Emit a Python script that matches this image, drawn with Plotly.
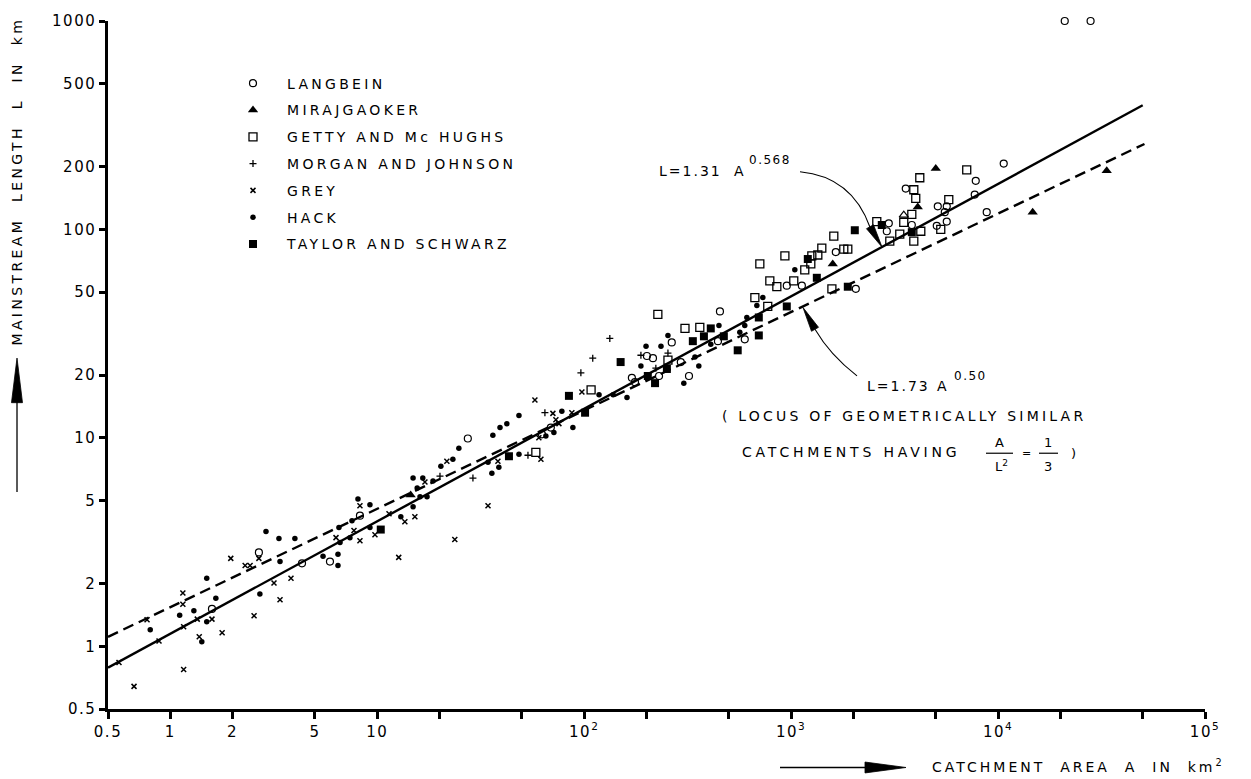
import math
import plotly.graph_objects as go

# ---------------- data (catchment area A in km^2, mainstream length L in km) ----------------
langbein_A = [1.59, 2.68, 4.33, 5.91, 8.25, 27.4, 62.5, 69.0, 201, 215, 265, 170, 176, 230, 293, 321, 443,
              453, 597, 953, 1127, 1644, 2054, 2965, 2900, 3581, 5114, 5650, 5650, 5056, 3830, 5527, 8815,
              7803, 7715, 10650, 21000, 28000]
langbein_L = [1.51, 2.82, 2.50, 2.55, 4.23, 9.93, 10.4, 11.2, 24.7, 24.1, 28.7, 19.4, 18.5, 19.8, 23.1, 19.8,
              29.1, 40.4, 29.7, 53.7, 53.7, 77.9, 51.9, 107, 98, 157, 129, 129, 109, 104, 105, 121, 121,
              171, 147, 207, 1000, 1000]

mirajgaoker_A = [14.5, 1589, 5000, 4093, 14700, 33500]
mirajgaoker_L = [5.32, 68.3, 196, 128, 121, 191]
mirajgaoker_open_A = [3502]
mirajgaoker_open_L = [117]

getty_A = [58.4, 108, 227, 254, 307, 362, 668, 771, 706, 789, 853, 1030, 933, 1164, 1245, 1259, 1346, 1407,
           1608, 1797, 1879, 1574, 2594, 2998, 3350, 3916, 4233, 3502, 3830, 4002, 3916, 4186, 5779, 5286,
           7057]
getty_L = [8.52, 17.0, 39.1, 23.6, 33.5, 33.9, 47.1, 42.7, 68.3, 56.7, 53.1, 56.7, 74.6, 64.0, 68.3, 74.6,
           75.4, 81.4, 92.8, 80.5, 80.5, 51.9, 109, 87.9, 94.9, 87.9, 98, 108, 118, 141, 155, 177, 139, 100,
           193]

morgan_A = [20.1, 29.0, 53.5, 64.6, 96.4, 110, 133, 188, 254, 222]
morgan_L = [6.55, 6.41, 8.25, 13.2, 20.5, 24.1, 30.0, 24.9, 25.5, 21.6]

grey_A = [0.668, 0.565, 0.772, 0.882, 1.15, 1.15, 1.16, 1.16, 1.35, 1.38, 1.59, 1.78, 1.96, 2.30, 2.43,
          2.54, 2.68, 3.17, 3.39, 3.83, 6.32, 8.25, 8.25, 7.72, 9.75, 11.4, 12.7, 13.6, 15.2, 23.7, 17.0,
          21.7, 38.3, 61.8, 57.8, 70.6, 73.0, 75.5, 60.4, 87.2, 97.5, 34.3]
grey_L = [0.642, 0.836, 1.34, 1.06, 1.80, 1.59, 1.24, 0.774, 1.35, 1.11, 1.35, 1.16, 2.64, 2.44, 2.44,
          1.40, 2.64, 2.01, 1.67, 2.12, 3.32, 4.72, 3.21, 3.59, 3.43, 4.32, 2.67, 3.96, 4.18, 3.25, 6.14,
          7.72, 7.72, 7.89, 15.2, 13.1, 12.2, 11.7, 10.0, 13.2, 16.6, 4.72]

hack_A = [0.80, 1.11, 1.30, 1.42, 1.50, 1.50, 1.66, 2.71, 2.90, 3.35, 3.39, 4.00, 5.47, 6.46, 6.46, 6.53,
          6.61, 7.38, 7.55, 8.07, 9.22, 9.22, 13.0, 14.9, 15.6, 16.1, 17.4, 14.9, 16.6, 18.6, 20.3, 23.2,
          24.8, 34.3, 38.7, 36.2, 39.2, 42.3, 48.4, 35.8, 48.4, 78.0, 71.4, 88.2, 65.3, 118, 138, 161, 199,
          235, 254, 343, 358, 303, 448, 409, 565, 611, 597, 683, 730, 1042, 188]
hack_L = [1.20, 1.41, 1.48, 1.05, 2.12, 1.31, 1.70, 1.78, 3.55, 3.29, 2.55, 3.29, 2.70, 2.76, 2.44, 3.71,
          3.15, 3.32, 4.00, 5.09, 4.77, 3.71, 4.18, 4.67, 5.75, 5.21, 5.21, 6.41, 6.41, 6.20, 7.31, 7.89,
          8.91, 7.64, 7.23, 10.3, 11.2, 11.7, 12.8, 6.77, 8.34, 13.4, 10.6, 11.2, 10.2, 16.1, 16.1, 15.6,
          27.5, 27.5, 31.0, 24.4, 22.1, 18.3, 34.6, 28.1, 32.1, 37.8, 34.6, 43.1, 47.1, 64.0, 22.1]

taylor_A = [10.4, 43.3, 84.4, 101, 150, 203, 220, 251, 335, 379, 409, 473, 552, 698, 698, 953, 1204, 1331,
            1879, 2031, 2742, 3830]
taylor_L = [3.63, 8.16, 15.9, 13.2, 23.1, 19.8, 18.3, 21.4, 29.1, 30.7, 33.5, 30.7, 26.3, 31.0, 37.8, 42.7,
            72.1, 58.6, 53.1, 99.1, 105, 97]

# fitted lines as drawn (end points)
solid_A = [0.5, 50000]
solid_L = [0.79, 394]
dashed_A = [0.5, 51000]
dashed_L = [1.11, 257]

x_tickvals = [0.5, 1, 2, 5, 10, 20, 50, 100, 200, 500, 1000, 2000, 5000, 1e4, 2e4, 5e4, 1e5]
x_ticktext = ['0.5', '1', '2', '5', '10', '', '', '10<sup>2</sup>', '', '', '10<sup>3</sup>', '', '',
              '10<sup>4</sup>', '', '', '10<sup>5</sup>']
y_tickvals = [0.5, 1, 2, 5, 10, 20, 50, 100, 200, 500, 1000]
y_ticktext = ['0.5', '1', '2', '5', '10', '20', '50', '100', '200', '500', '1000']

series_names = ['LANGBEIN', 'MIRAJGAOKER', 'GETTY AND Mc HUGHS', 'MORGAN AND JOHNSON', 'GREY', 'HACK',
                'TAYLOR AND SCHWARZ']

# ---------------- layout helpers ----------------
W, H = 1251, 779
PL, PR, PT, PB = 108, 1205, 15, 709
FONT = "DejaVu Sans"


def fx(p):
    return (p - PL) / (PR - PL)


def fy(p):
    return (PB - p) / (PB - PT)


def sp(t, s=2):
    return f'<span style="letter-spacing:{s}px">{t}</span>'


fig = go.Figure()

fig.add_trace(go.Scatter(x=solid_A, y=solid_L, mode='lines', showlegend=False, hoverinfo='skip',
                         line=dict(color='black', width=2.4)))
fig.add_trace(go.Scatter(x=dashed_A, y=dashed_L, mode='lines', showlegend=False, hoverinfo='skip',
                         line=dict(color='black', width=2.4, dash='11px,6px')))

marker_styles = [
    dict(symbol='circle-open', size=7, line=dict(width=1.2, color='black')),
    dict(symbol='triangle-up', size=9, line=dict(width=0, color='black')),
    dict(symbol='square-open', size=8, line=dict(width=1.3, color='black')),
    dict(symbol='cross-thin-open', size=5, line=dict(width=1.3, color='black')),
    dict(symbol='x-thin-open', size=5, line=dict(width=1.5, color='black')),
    dict(symbol='circle', size=5.5, line=dict(width=0, color='black')),
    dict(symbol='square', size=8, line=dict(width=0, color='black')),
]
series_data = [(langbein_A, langbein_L), (mirajgaoker_A, mirajgaoker_L), (getty_A, getty_L),
               (morgan_A, morgan_L), (grey_A, grey_L), (hack_A, hack_L), (taylor_A, taylor_L)]

for i, (name, (a, l), m) in enumerate(zip(series_names, series_data, marker_styles)):
    fig.add_trace(go.Scatter(x=a, y=l, mode='markers', name=sp(name, 3.3), legendgroup=f'g{i}',
                             marker=dict(color='black', **m), cliponaxis=False))

fig.add_trace(go.Scatter(x=mirajgaoker_open_A, y=mirajgaoker_open_L, mode='markers', showlegend=False,
                         marker=dict(symbol='triangle-up-open', size=8, color='black',
                                     line=dict(width=1.2, color='black'))))

ann = []


def add_text(text, x, y, xanchor='left', size=14, angle=0):
    ann.append(dict(text=text, x=fx(x), y=fy(y), xref='paper', yref='paper', xanchor=xanchor,
                    yanchor='middle', showarrow=False, textangle=angle,
                    font=dict(family=FONT, size=size, color='black')))


add_text(sp('L=1.31', 2), 657, 166)
add_text('A', 732, 166)
add_text(sp('0.568', 1.5), 747, 155, size=12)
add_text(sp('L=1.73', 2), 865, 383)
add_text('A', 935, 383)
add_text(sp('0.50', 1.5), 952, 373, size=12)
add_text(sp('( LOCUS OF GEOMETRICALLY SIMILAR', 3.2), 720, 413)
add_text(sp('CATCHMENTS HAVING', 3.8), 740, 450)
add_text('A', 999, 440, xanchor='center', size=13)
add_text('L<sup>2</sup>', 1001, 464, xanchor='center', size=13)
add_text('=', 1026, 451, xanchor='center', size=11)
add_text('1', 1048, 440, xanchor='center', size=13)
add_text('3', 1048, 464, xanchor='center', size=13)
add_text(')', 1073, 451, xanchor='center', size=13)
add_text(sp('CATCHMENT  AREA  A  IN  km<sup>2</sup>', 3.0), 930, 767)
add_text(sp('MAINSTREAM  LENGTH  L  IN  km', 3.4), 17, 177, xanchor='center', angle=-90)

shapes = []


def path(pts, closed=True, fill=True, width=1.2):
    d = 'M ' + ' L '.join(f'{fx(x):.5f},{fy(y):.5f}' for x, y in pts)
    if closed:
        d += ' Z'
    shapes.append(dict(type='path', xref='paper', yref='paper', path=d,
                       fillcolor='black' if fill else 'rgba(0,0,0,0)',
                       line=dict(color='black', width=width)))


def qcurve(p0, c, p1, width=1.1):
    d = (f'M {fx(p0[0]):.5f},{fy(p0[1]):.5f} Q {fx(c[0]):.5f},{fy(c[1]):.5f} '
         f'{fx(p1[0]):.5f},{fy(p1[1]):.5f}')
    shapes.append(dict(type='path', xref='paper', yref='paper', path=d,
                       line=dict(color='black', width=width)))


# curved pointers to the two lines
qcurve((800, 167), (852, 172), (870, 223))
path([(882, 243), (866.5, 224.5), (873.5, 220.5)], width=0.8)
qcurve((857, 373), (830, 352), (815, 326))
path([(803, 304), (818.5, 324), (811.5, 328)], width=0.8)
# fraction bars
path([(986, 451), (1013, 451)], closed=False, fill=False, width=1.2)
path([(1039, 451), (1058, 451)], closed=False, fill=False, width=1.2)
# axis title arrows
path([(780, 768), (868, 768)], closed=False, fill=False, width=1.3)
path([(906, 768), (865, 762.5), (865, 773.5)], width=0.8)
path([(17, 490), (17, 398)], closed=False, fill=False, width=1.3)
path([(17, 355), (11.5, 400), (22.5, 400)], width=0.8)

axis_common = dict(type='log', tickmode='array', ticks='outside', tickwidth=2.5, tickcolor='black',
                   showline=True, linewidth=2.5, linecolor='black', showgrid=False, zeroline=False,
                   tickfont=dict(family=FONT, size=15, color='black'), mirror=False)

fig.update_layout(
    width=W, height=H,
    margin=dict(l=PL, r=W - PR, t=PT, b=H - PB, pad=0),
    plot_bgcolor='white', paper_bgcolor='white',
    xaxis=dict(range=[math.log10(0.5), 5], tickvals=x_tickvals,
               ticktext=[sp(t, 1.5) for t in x_ticktext], ticklen=7, **axis_common),
    yaxis=dict(range=[math.log10(0.5), 3], tickvals=y_tickvals,
               ticktext=[sp(t, 1.5) for t in y_ticktext], ticklen=6, **axis_common),
    legend=dict(x=fx(219), y=fy(62), xanchor='left', yanchor='top', traceorder='grouped',
                tracegroupgap=5.6, itemwidth=58, bgcolor='rgba(0,0,0,0)', borderwidth=0,
                font=dict(family=FONT, size=14, color='black')),
    annotations=ann,
    shapes=shapes,
    showlegend=True,
)

fig.write_html("out.html")
